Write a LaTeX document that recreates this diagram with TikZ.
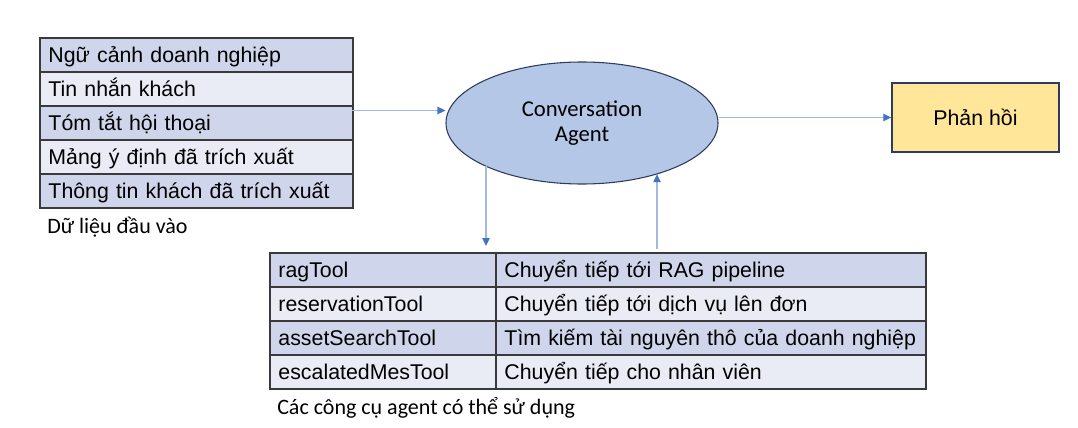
\documentclass[tikz,border=0pt]{standalone}
\usepackage{fontspec}
\setmainfont{Liberation Sans}
\newfontfamily\calfont{Carlito}
\usetikzlibrary{shapes.geometric,arrows.meta}
\definecolor{rowdark}{HTML}{CFD5EA}
\definecolor{rowlight}{HTML}{E9EBF5}
\definecolor{gridline}{HTML}{3A3A3A}
\definecolor{agentfill}{HTML}{B4C7E7}
\definecolor{navy}{HTML}{2F3B5C}
\definecolor{replyfill}{HTML}{FFE699}
\definecolor{linkline}{HTML}{A3B9E3}
\definecolor{linktip}{HTML}{4472C4}
\begin{document}
\begin{tikzpicture}[x=0.75pt,y=-0.75pt,
  cell/.style={draw=gridline,line width=1.2pt,rectangle,anchor=north west,
    minimum height=25.5pt,inner xsep=6.5pt,inner ysep=0pt,align=left,
    text height=11.5pt,text depth=0.5pt,
    font=\fontsize{16}{19}\selectfont},
  incell/.style={cell,text width=221.75pt},
  namecell/.style={cell,text width=156.5pt},
  desccell/.style={cell,text width=309.5pt},
  caption/.style={anchor=west,inner sep=0pt,font=\calfont\fontsize{16.5}{20}\selectfont},
  link/.style={draw=linkline,line width=0.9pt,
    -{Triangle[length=6pt,width=5.5pt,fill=linktip,color=linktip]}}]
\path[fill=white] (0,0) rectangle (1078,428);

% input data table
\node[incell,fill=rowdark]  (in1) at (39,37)  {Ngữ cảnh doanh nghiệp};
\node[incell,fill=rowlight] (in2) at (39,71)  {Tin nhắn khách};
\node[incell,fill=rowdark]  (in3) at (39,105) {Tóm tắt hội thoại};
\node[incell,fill=rowlight] (in4) at (39,139) {Mảng ý định đã trích xuất};
\node[incell,fill=rowdark]  (in5) at (39,173) {Thông tin khách đã trích xuất};
\node[caption] (incap) at (47,227) {Dữ liệu đầu vào};

% agent and reply
\node[ellipse,draw=navy,line width=0.8pt,fill=agentfill,minimum width=204pt,
  minimum height=91.5pt,align=center,font=\calfont\fontsize{17}{18.75}\selectfont]
  (agent) at (582,123) {Conversation\\Agent};
\node[rectangle,draw=navy,line width=1pt,fill=replyfill,minimum width=125.25pt,
  minimum height=51.75pt,font=\fontsize{16}{19}\selectfont]
  (reply) at (975.5,117.5) {Phản hồi};

% tools table
\node[namecell,fill=rowdark]  (n1) at (269,252) {ragTool};
\node[desccell,fill=rowdark]  (d1) at (495,252) {Chuyển tiếp tới RAG pipeline};
\node[namecell,fill=rowlight] (n2) at (269,286) {reservationTool};
\node[desccell,fill=rowlight] (d2) at (495,286) {Chuyển tiếp tới dịch vụ lên đơn};
\node[namecell,fill=rowdark]  (n3) at (269,320) {assetSearchTool};
\node[desccell,fill=rowdark]  (d3) at (495,320) {Tìm kiếm tài nguyên thô của doanh nghiệp};
\node[namecell,fill=rowlight] (n4) at (269,354) {escalatedMesTool};
\node[desccell,fill=rowlight] (d4) at (495,354) {Chuyển tiếp cho nhân viên};
\node[caption] (toolcap) at (277,408) {Các công cụ agent có thể sử dụng};

% connectors
\coordinate (inout) at (352,110.5);
\coordinate (calldown) at (486,246);
\coordinate (resultup) at (657,249);
\draw[link] (inout) -- (inout -| agent.west);
\draw[link] (agent.east |- reply.west) -- (reply.west);
\draw[link] (calldown |- agent.204) -- (calldown);
\draw[link] (resultup) -- (resultup |- agent.-34);
\end{tikzpicture}
\end{document}
